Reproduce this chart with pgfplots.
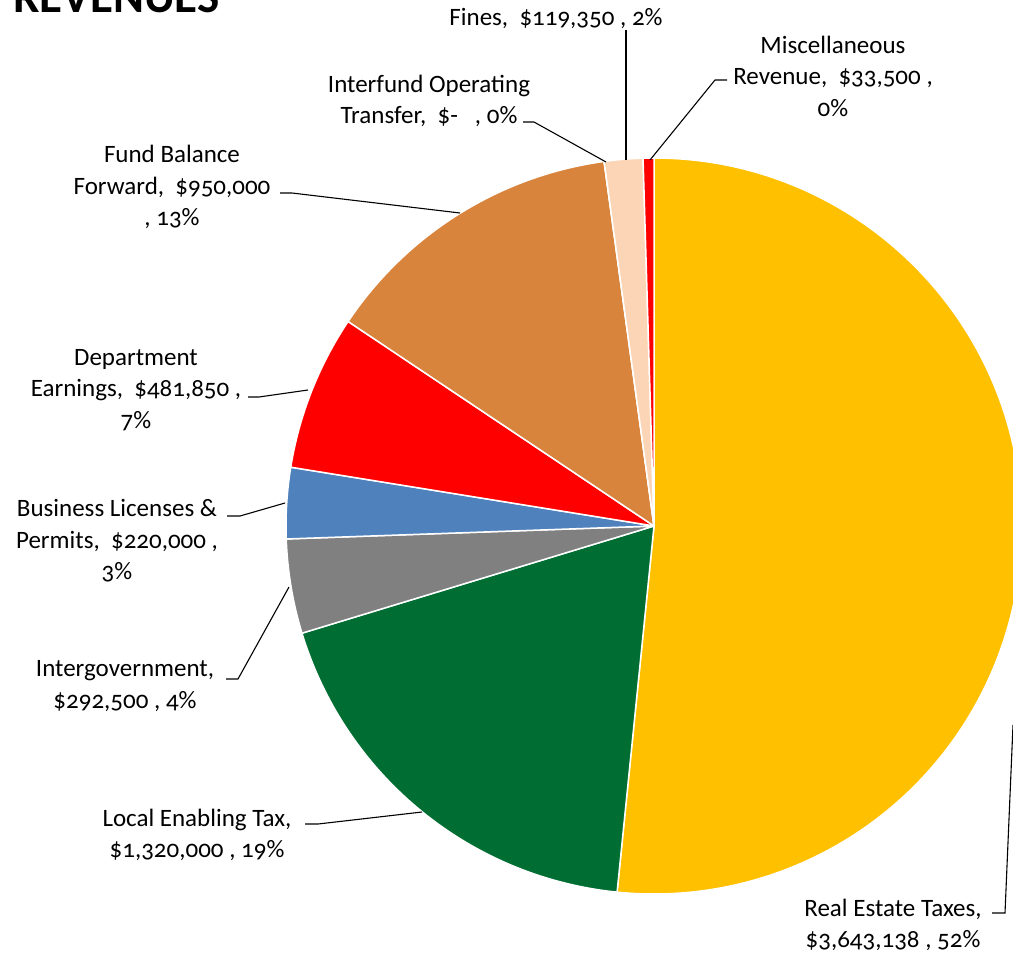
\documentclass[border=0pt]{standalone}
\usepackage{pgfplots}
\usepackage{pgfplotstable}
\pgfplotsset{compat=1.18}
\usepackage{fontspec}
\setmainfont{Carlito}[Numbers=OldStyle]

\definecolor{pie0}{HTML}{FFC000}
\definecolor{pie1}{HTML}{006E33}
\definecolor{pie2}{HTML}{808080}
\definecolor{pie3}{HTML}{4F81BD}
\definecolor{pie4}{HTML}{FF0000}
\definecolor{pie5}{HTML}{D9843D}
\definecolor{pie6}{HTML}{A5A5A5}
\definecolor{pie7}{HTML}{FBD5B5}
\definecolor{pie8}{HTML}{FF0000}

% revenues, clockwise from 12 o'clock
\pgfplotstableread{
value
3643138
1320000
292500
220000
481850
950000
0
119350
33500
}\revtable

\newcommand\lbl{\fontsize{25}{31.5}\selectfont}

\begin{document}
\begin{tikzpicture}
% slice angles
\gdef\tot{0}
\pgfplotstableforeachcolumnelement{value}\of\revtable\as\v{\xdef\tot{\fpeval{\tot+\v}}}
\gdef\cum{0}
\pgfplotstableforeachcolumnelement{value}\of\revtable\as\v{%
  \expandafter\xdef\csname sa\pgfplotstablerow\endcsname{\fpeval{90-360*\cum/\tot}}%
  \xdef\cum{\fpeval{\cum+\v}}%
  \expandafter\xdef\csname ea\pgfplotstablerow\endcsname{\fpeval{90-360*\cum/\tot}}}

\begin{axis}[
  scale only axis,
  width=1013pt, height=956pt,
  xmin=0, xmax=1013, ymin=0, ymax=956,
  y dir=reverse,
  hide axis,
  clip=false,
]
\pgfplotsinvokeforeach{0,...,8}{
  \filldraw[fill=pie#1, draw=white, line width=1.5pt, line join=round]
    (axis cs:654,526) -- ([shift={(\csname sa#1\endcsname:368pt)}]axis cs:654,526)
    arc[start angle=\csname sa#1\endcsname, end angle=\csname ea#1\endcsname, radius=368pt] -- cycle;
}

% leader lines
\draw[line width=1.1pt] (axis cs:626,30) -- (axis cs:626,160);
\draw[line width=1.1pt] (axis cs:727,80) -- (axis cs:715,80) -- (axis cs:650,160);
\draw[line width=1.1pt] (axis cs:523,122) -- (axis cs:534,122) -- (axis cs:606,162);
\draw[line width=1.1pt] (axis cs:280,193) -- (axis cs:292,193) -- (axis cs:460,213);
\draw[line width=1.1pt] (axis cs:248,397) -- (axis cs:259,397) -- (axis cs:308,390);
\draw[line width=1.1pt] (axis cs:227,516) -- (axis cs:240,516) -- (axis cs:285,503);
\draw[line width=1.1pt] (axis cs:226,679) -- (axis cs:238,679) -- (axis cs:289,587);
\draw[line width=1.1pt] (axis cs:305,824) -- (axis cs:318,824) -- (axis cs:422,812);
\draw[line width=1.1pt] (axis cs:992,913) -- (axis cs:1005,913) -- (axis cs:1013,725);

% labels
\node[font=\lbl, inner sep=0pt] at (axis cs:556,18) {Fines,\ \ \$119,350 , 2\%};
\node[font=\lbl, inner sep=0pt, align=center] at (axis cs:833,76) {Miscellaneous\\Revenue,\ \ \$33,500 ,\\0\%};
\node[font=\lbl, inner sep=0pt, align=center] at (axis cs:429,101) {Interfund Operating\\Transfer,\ \ \$-\ \ \ , 0\%};
\node[font=\lbl, inner sep=0pt, align=center] at (axis cs:172,187) {Fund Balance\\Forward,\ \ \$950,000\\, 13\%};
\node[font=\lbl, inner sep=0pt, align=center] at (axis cs:136,390) {Department\\Earnings,\ \ \$481,850 ,\\7\%};
\node[font=\lbl, inner sep=0pt, align=center] at (axis cs:117,541) {Business Licenses \&\\Permits,\ \ \$220,000 ,\\3\%};
\node[font=\lbl, inner sep=0pt, align=center] at (axis cs:125,686) {Intergovernment,\\\$292,500 , 4\%};
\node[font=\lbl, inner sep=0pt, align=center] at (axis cs:197,835) {Local Enabling Tax,\\\$1,320,000 , 19\%};
\node[font=\lbl, inner sep=0pt, align=center] at (axis cs:893,925) {Real Estate Taxes,\\\$3,643,138 , 52\%};

% title, cut by the top edge
\node[font=\fontsize{47}{47}\selectfont\bfseries, inner sep=0pt, anchor=base west] at (axis cs:13,12) {REVENUES};
\end{axis}
\pgfresetboundingbox
\useasboundingbox (0,0) rectangle (1013pt,956pt);
\end{tikzpicture}
\end{document}
